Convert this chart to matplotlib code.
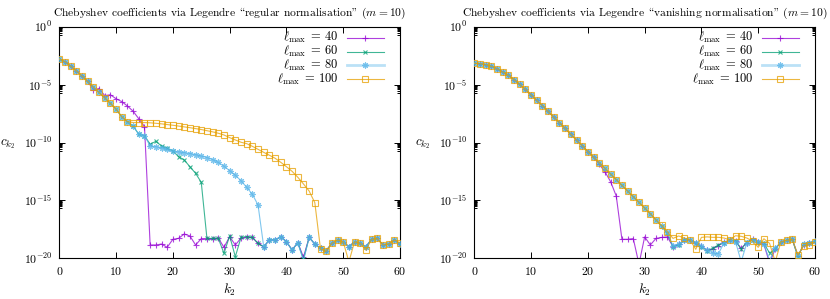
import numpy as np
import matplotlib
matplotlib.use("Agg")
import matplotlib.pyplot as plt
from matplotlib.ticker import FixedLocator, LogFormatterSciNotation, NullFormatter

plt.rcParams['font.family'] = ['cmr10', 'DejaVu Serif']
plt.rcParams['mathtext.fontset'] = 'cm'
plt.rcParams['axes.formatter.use_mathtext'] = True
plt.rcParams['font.size'] = 8.5

# ---------------- data (log10 of c_{k2}) ----------------
k2 = list(range(61))
lmax_labels = [r'$\ell_{\max}\;=\,40$', r'$\ell_{\max}\;=\,60$', r'$\ell_{\max}\;=\,80$', r'$\ell_{\max}\;=\,100$']
# In the Computer Modern (cmr10) encoding, "\" is the opening and '"' the closing double quote.
titles = ['Chebyshev coefficients via Legendre \\regular normalisation" $(m = 10)$',
          'Chebyshev coefficients via Legendre \\vanishing normalisation" $(m = 10)$']

reg_40 = [-2.79, -3.02, -3.40, -3.82, -4.26, -4.72, -5.45, -5.34, -5.95, -5.88,
          -6.22, -6.47, -6.85, -7.30, -7.95, -8.62, -18.85, -18.85, -18.77, -19.05,
          -18.36, -18.28, -17.90, -18.07, -18.85, -18.30, -18.30, -18.30, -18.25, -19.05,
          -18.13, -18.85, -18.25, -18.15, -18.20, -18.71, -19.00, -18.42, -18.42, -18.13,
          -18.57, -19.28, -18.65, -19.90, -18.19, -18.77, -19.14, -19.34, -18.71, -18.42,
          -18.57, -19.00, -18.57, -18.71, -19.00, -18.36, -18.28, -18.85, -18.77, -18.42,
          -18.77]
reg_60 = [-2.79, -3.02, -3.40, -3.82, -4.26, -4.72, -5.22, -5.68, -6.15, -6.62,
          -7.12, -7.78, -8.20, -8.58, -9.29, -9.41, -10.15, -9.90, -10.30, -10.50,
          -10.73, -11.22, -11.51, -12.09, -12.66, -13.44, -18.28, -18.28, -18.28, -19.57,
          -18.07, -19.86, -18.20, -18.13, -18.20, -18.71, -19.00, -18.42, -18.42, -18.13,
          -18.57, -19.28, -18.65, -20.10, -18.19, -18.77, -19.14, -19.34, -18.71, -18.42,
          -18.57, -19.00, -18.57, -18.71, -19.00, -18.36, -18.28, -18.85, -18.77, -18.42,
          -18.77]
reg_80 = [-2.79, -3.02, -3.40, -3.82, -4.26, -4.72, -5.22, -5.68, -6.15, -6.62,
          -7.12, -7.78, -8.20, -8.58, -9.29, -9.41, -10.30, -10.36, -10.45, -10.60,
          -10.75, -10.80, -10.87, -10.95, -11.05, -11.17, -11.30, -11.48, -11.72, -12.05,
          -12.43, -12.83, -13.30, -13.87, -14.47, -15.40, -19.00, -18.42, -18.42, -18.13,
          -18.57, -19.28, -18.65, -20.20, -18.19, -18.77, -19.14, -19.34, -18.71, -18.42,
          -18.57, -19.00, -18.57, -18.71, -19.00, -18.36, -18.28, -18.85, -18.77, -18.42,
          -18.77]
reg_100 = [-2.79, -3.02, -3.40, -3.82, -4.26, -4.72, -5.22, -5.68, -6.15, -6.62,
           -7.12, -7.78, -8.20, -8.28, -8.28, -8.28, -8.30, -8.34, -8.39, -8.45,
           -8.51, -8.58, -8.65, -8.72, -8.80, -8.88, -8.98, -9.08, -9.20, -9.35,
           -9.58, -9.78, -9.98, -10.10, -10.33, -10.59, -10.85, -11.10, -11.36, -11.71,
           -12.09, -12.49, -13.00, -13.58, -14.19, -15.20, -19.20, -19.40, -18.71, -18.42,
           -18.57, -20.30, -18.57, -18.71, -19.30, -18.36, -18.28, -18.85, -18.77, -18.42,
           -18.65]

van_40 = [-3.16, -3.19, -3.28, -3.42, -3.62, -3.91, -4.20, -4.58, -4.98, -5.41,
          -5.90, -6.36, -6.82, -7.31, -7.80, -8.29, -8.78, -9.29, -9.78, -10.28,
          -10.80, -11.25, -11.88, -12.52, -13.38, -14.62, -18.36, -18.36, -18.30, -20.50,
          -18.15, -18.85, -18.28, -18.20, -18.15, -19.00, -18.80, -18.45, -18.40, -18.70,
          -18.95, -19.30, -19.20, -18.90, -18.60, -18.45, -18.50, -19.15, -18.65, -18.35,
          -18.55, -18.80, -20.40, -19.20, -18.60, -18.45, -18.36, -19.80, -18.85, -18.70,
          -18.50]
van_60 = [-3.16, -3.19, -3.28, -3.42, -3.62, -3.91, -4.20, -4.58, -4.98, -5.41,
          -5.90, -6.36, -6.82, -7.31, -7.80, -8.29, -8.78, -9.29, -9.78, -10.28,
          -10.80, -11.25, -11.74, -12.23, -12.72, -13.21, -13.70, -14.19, -14.68, -15.16,
          -15.66, -16.15, -16.69, -17.25, -17.85, -19.00, -18.85, -18.42, -18.40, -18.65,
          -19.00, -19.34, -19.14, -18.85, -18.65, -18.42, -18.50, -19.20, -18.60, -18.40,
          -18.55, -18.70, -19.55, -19.20, -18.60, -18.45, -18.36, -19.90, -18.75, -18.70,
          -18.50]
van_80 = [-3.16, -3.19, -3.28, -3.42, -3.62, -3.91, -4.20, -4.58, -4.98, -5.41,
          -5.90, -6.36, -6.82, -7.31, -7.80, -8.29, -8.78, -9.29, -9.78, -10.28,
          -10.80, -11.25, -11.74, -12.23, -12.72, -13.21, -13.70, -14.19, -14.68, -15.16,
          -15.66, -16.15, -16.69, -17.21, -17.75, -18.95, -18.80, -18.45, -18.40, -18.65,
          -18.95, -19.30, -19.55, -19.60, -18.65, -18.42, -18.55, -20.30, -18.65, -18.40,
          -18.55, -18.75, -20.20, -19.10, -18.60, -18.45, -18.36, -19.80, -18.80, -18.70,
          -18.50]
van_100 = [-3.16, -3.19, -3.28, -3.42, -3.62, -3.91, -4.20, -4.58, -4.98, -5.41,
           -5.90, -6.36, -6.82, -7.31, -7.80, -8.29, -8.78, -9.29, -9.78, -10.28,
           -10.80, -11.25, -11.74, -12.23, -12.72, -13.21, -13.70, -14.19, -14.68, -15.16,
           -15.66, -16.15, -16.69, -17.15, -17.70, -18.28, -18.07, -18.25, -18.42, -19.22,
           -18.19, -18.15, -18.19, -18.19, -18.25, -18.42, -18.05, -18.10, -18.25, -18.51,
           -19.05, -18.31, -18.71, -20.30, -18.57, -18.45, -18.36, -19.71, -18.94, -18.85,
           -18.60]

panels = [[reg_40, reg_60, reg_80, reg_100], [van_40, van_60, van_80, van_100]]

colors = ['#9400d3', '#009e73', '#56b4e9', '#e69f00']
markers = ['+', 'x', (8, 2, 0), 's']
msizes = [4.5, 3.5, 4.5, 4.0]

W, H = 830, 299
fig = plt.figure(figsize=(W / 100, H / 100), dpi=100)
ax_left_px = [59.3, 474.3]
ax_w_px = 340.7
ax_top_px, ax_bot_px = 26.7, 258.3

for p in range(2):
    ax = fig.add_axes([ax_left_px[p] / W, 1 - ax_bot_px / H, ax_w_px / W, (ax_bot_px - ax_top_px) / H])
    for i, series in enumerate(panels[p]):
        vals = 10.0 ** np.array(series)
        mfc = 'none' if markers[i] == 's' else colors[i]
        ax.plot(k2, vals, color=colors[i], lw=0.8, alpha=0.75, marker=markers[i],
                ms=msizes[i], mew=0.8, mfc=mfc, mec=colors[i], zorder=2 + i)
    ax.set_yscale('log')
    ax.set_xlim(0, 60)
    ax.set_ylim(1e-20, 1e0)
    ax.xaxis.set_major_locator(FixedLocator([0, 10, 20, 30, 40, 50, 60]))
    ax.yaxis.set_major_locator(FixedLocator([1e0, 1e-5, 1e-10, 1e-15, 1e-20]))
    minors = [m * 10.0 ** (n - 1) for n in [0, -5, -10, -15, -20] for m in range(2, 10)]
    ax.yaxis.set_minor_locator(FixedLocator(minors))
    ax.yaxis.set_major_formatter(LogFormatterSciNotation())
    ax.yaxis.set_minor_formatter(NullFormatter())
    ax.tick_params(which='both', direction='in', top=True, right=True, width=0.7)
    ax.tick_params(which='major', length=4, pad=5)
    ax.tick_params(which='minor', length=2)
    for s in ax.spines.values():
        s.set_linewidth(0.8)
    ax.set_title(titles[p], fontsize=8.3, pad=8)
    ax.set_ylabel(r'$c_{k_2}$', rotation=0, ha='center', va='center', fontsize=9.5)
    ax.yaxis.set_label_coords(-0.152, 0.493)
    ax.set_xlabel(r'$k_2$', fontsize=9.5, va='center')
    ax.xaxis.set_label_coords(0.5, -0.135)

    # gnuplot-style key: right-aligned labels, sample to the right
    rows = [0.9525, 0.8925, 0.8325, 0.7731]
    for i in range(4):
        ax.text(0.819, rows[i], lmax_labels[i], transform=ax.transAxes,
                ha='right', va='center', fontsize=9)
        ax.plot([0.8435, 0.953], [rows[i], rows[i]], transform=ax.transAxes,
                color=colors[i], lw=0.8 if i != 2 else 2.0, alpha=0.75 if i != 2 else 0.4,
                clip_on=False)
        mfc = 'none' if markers[i] == 's' else colors[i]
        ax.plot([0.898], [rows[i]], transform=ax.transAxes, color=colors[i], alpha=0.75,
                marker=markers[i], ms=msizes[i], mew=0.8, mfc=mfc, mec=colors[i],
                linestyle='none', clip_on=False)

fig.savefig('out.png', dpi=100)
